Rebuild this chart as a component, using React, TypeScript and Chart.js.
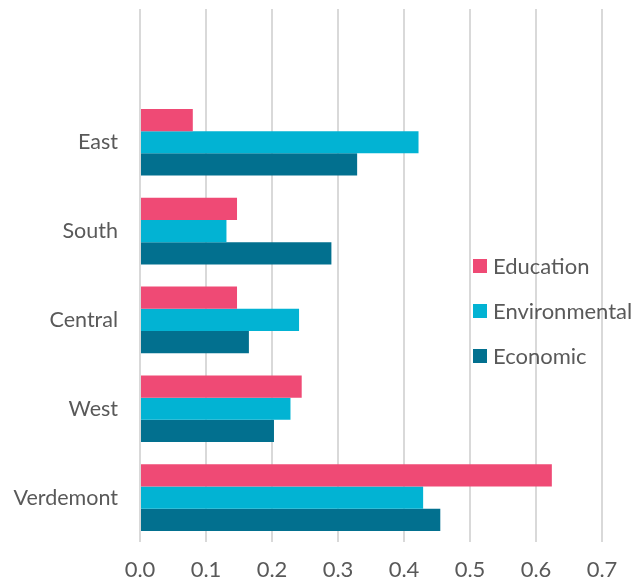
import React, { useEffect, useRef } from "react";
import { Chart, registerables } from "chart.js";

Chart.register(...registerables);

const categories = ["", "East", "South", "Central", "West", "Verdemont"];
const education = [null, 0.08, 0.147, 0.147, 0.245, 0.624];
const environmental = [null, 0.422, 0.131, 0.241, 0.228, 0.429];
const economic = [null, 0.329, 0.29, 0.165, 0.203, 0.455];
const xTicks = [0, 0.1, 0.2, 0.3, 0.4, 0.5, 0.6, 0.7];

const seriesNames = ["Education", "Environmental", "Economic"];
const seriesColors = ["#EF4A75", "#02B3D3", "#02708F"];

const FONT = "Lato, 'Open Sans', sans-serif";
const TEXT = "#595959";

const legendPlugin = {
  id: "insideLegend",
  afterDraw(chart: any) {
    const ctx = chart.ctx;
    ctx.save();
    ctx.font = `22px ${FONT}`;
    ctx.textBaseline = "middle";
    ctx.textAlign = "left";
    const rows = [266, 311, 356];
    seriesNames.forEach((name, i) => {
      ctx.fillStyle = seriesColors[i];
      ctx.fillRect(473, rows[i] - 7, 14, 14);
      ctx.fillStyle = TEXT;
      ctx.fillText(name, 493, rows[i] + 1);
    });
    ctx.restore();
  },
};

export default function App() {
  const ref = useRef<HTMLCanvasElement>(null);
  useEffect(() => {
    document.body.style.margin = "0";
    const chart = new Chart(ref.current!, {
      type: "bar",
      data: {
        labels: categories,
        datasets: [
          { label: seriesNames[0], data: education, backgroundColor: seriesColors[0] },
          { label: seriesNames[1], data: environmental, backgroundColor: seriesColors[1] },
          { label: seriesNames[2], data: economic, backgroundColor: seriesColors[2] },
        ],
      },
      options: {
        indexAxis: "y",
        animation: false,
        responsive: false,
        maintainAspectRatio: false,
        datasets: { bar: { barPercentage: 1, categoryPercentage: 0.75 } },
        layout: { padding: { top: 9, right: 41, left: 0, bottom: 0 } },
        plugins: { legend: { display: false }, tooltip: { enabled: false } },
        scales: {
          x: {
            min: 0,
            max: 0.7,
            afterBuildTicks: (s: any) => {
              s.ticks = xTicks.map((v) => ({ value: v }));
            },
            afterFit: (s: any) => {
              s.height = 40;
              s.paddingLeft = 0;
              s.paddingRight = 0;
            },
            grid: { color: "#D9D9D9", lineWidth: 2, drawTicks: false },
            border: { display: false },
            ticks: {
              padding: 15,
              color: TEXT,
              font: { family: FONT, size: 22 },
              callback: (v: any) => Number(v).toFixed(1),
            },
          },
          y: {
            afterFit: (s: any) => {
              s.width = 140;
              s.paddingTop = 0;
              s.paddingBottom = 0;
            },
            grid: { display: false, drawTicks: false },
            border: { display: false },
            ticks: {
              padding: 22,
              color: TEXT,
              font: { family: FONT, size: 21.5 },
            },
          },
        },
      },
      plugins: [legendPlugin],
    });
    return () => chart.destroy();
  }, []);
  return (
    <div style={{ position: "absolute", left: 0, top: 0, width: 643, height: 582 }}>
      <canvas ref={ref} width={643} height={582} style={{ width: 643, height: 582 }} />
    </div>
  );
}
